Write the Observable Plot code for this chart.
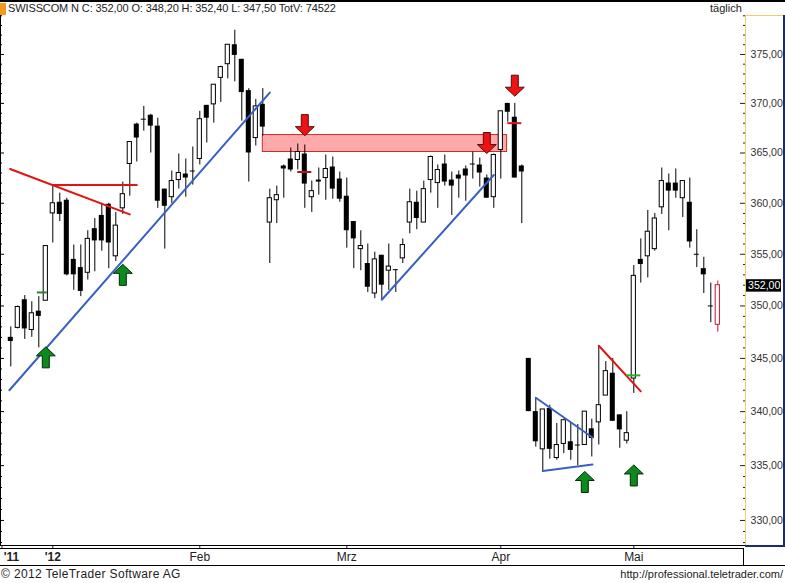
<!DOCTYPE html>
<html><head><meta charset="utf-8">
<script src="https://cdn.jsdelivr.net/npm/d3@7"></script>
<script src="https://cdn.jsdelivr.net/npm/@observablehq/plot@0.6"></script>
<style>
html,body{margin:0;padding:0;background:#fff;}
#wrap{position:relative;width:785px;height:583px;overflow:hidden;font-family:"Liberation Sans",Arial,sans-serif;color:#222;}
#wrap svg{position:absolute;left:0;top:0;}
.t{position:absolute;white-space:nowrap;font-size:12px;line-height:14px;}
.l{position:absolute;}
</style></head><body><div id="wrap"></div>
<script>
const opens = [347.0,347.9,350.6,347.7,349.5,350.5,359.0,360.1,360.3,354.5,353.7,353.2,357.5,358.8,359.9,354.8,359.5,363.9,367.9,368.4,368.8,367.7,361.4,360.6,362.3,362.9,363.2,364.4,369.8,369.9,372.6,374.0,376.0,374.5,371.3,366.5,369.9,358.1,360.3,363.7,364.4,364.3,364.9,360.6,362.3,362.5,363.6,362.4,360.7,358.2,355.5,354.1,351.2,354.9,353.4,353.5,354.6,358.1,360.1,358.1,362.3,362.0,363.9,362.3,362.8,363.4,363.9,363.8,362.5,360.6,365.3,370.0,368.6,363.7,345.0,340.0,336.5,340.3,335.7,337.0,337.2,336.9,336.9,338.4,339.0,341.5,343.6,339.7,337.3,343.1,354.5,354.8,355.5,359.6,362.0,362.0,360.5,360.1,355.0,353.6,350.0,348.2];
const closes = [346.6,349.9,347.8,349.3,349.0,355.8,360.0,358.9,353.0,353.0,351.4,356.5,356.3,356.3,356.1,357.8,360.9,366.1,366.5,368.4,367.7,360.2,359.7,362.2,363.0,362.5,363.1,368.4,368.5,371.9,373.7,376.0,374.9,371.1,365.0,369.7,367.6,360.5,360.8,363.4,363.3,365.1,361.9,361.2,362.1,363.4,361.4,360.4,357.3,356.5,355.8,351.8,354.5,352.0,353.8,353.5,355.9,360.1,358.5,361.4,364.6,363.3,362.1,361.7,362.4,362.7,363.9,363.0,360.5,364.8,369.2,369.1,362.5,363.1,340.0,337.2,340.2,336.5,336.9,339.2,336.4,336.9,340.0,337.5,340.6,343.8,339.1,338.3,338.0,352.9,354.0,357.2,358.5,362.2,361.2,361.2,362.2,356.2,355.0,353.0,350.0,352.0];
const highs = [348.0,350.0,351.0,350.4,350.9,355.8,361.8,361.0,360.5,355.9,355.9,357.3,358.5,360.0,360.0,359.1,362.1,366.1,368.0,369.7,368.9,368.5,361.4,363.2,364.9,364.4,365.6,369.2,369.8,371.9,373.8,376.0,377.5,374.5,371.5,370.4,371.5,361.4,361.7,363.8,365.5,365.9,365.8,362.2,363.5,364.8,364.6,363.1,362.5,358.2,357.3,356.0,355.2,354.9,356.0,353.5,356.5,361.4,361.2,362.2,364.7,363.8,364.8,363.1,363.2,363.7,365.1,364.5,362.8,364.9,369.2,370.0,370.0,363.8,345.0,341.3,340.2,340.6,338.9,339.3,338.9,338.8,340.0,339.3,346.2,344.7,345.0,339.7,340.0,353.9,356.5,359.3,359.0,363.5,362.9,363.4,362.2,362.5,357.4,354.7,352.2,352.4];
const lows = [344.2,347.8,346.8,347.0,346.0,350.5,356.1,358.2,352.9,351.5,350.9,352.5,353.3,355.3,353.6,354.3,358.9,360.7,364.1,367.2,365.0,359.5,355.5,360.0,361.4,360.6,361.8,363.8,366.0,368.0,370.1,372.5,372.2,368.2,362.1,365.7,366.7,354.1,358.0,360.5,363.1,363.3,359.5,359.1,360.8,360.3,360.4,360.1,355.6,353.6,353.4,351.3,350.7,350.6,351.5,351.3,354.1,357.0,357.4,358.1,361.0,359.5,361.7,358.8,360.5,360.2,362.4,361.6,360.5,359.5,362.4,368.1,362.5,358.0,340.0,336.7,334.4,335.6,335.5,336.1,335.5,335.0,336.9,335.8,336.9,341.5,339.1,336.6,337.0,341.7,352.2,352.7,355.3,358.9,357.3,360.5,358.6,355.6,353.7,351.2,348.4,347.5];

const blueLines = [
  [[-0.2,342.0],[37,371.1]],
  [[53,350.6],[69,362.8]],
  [[75,341.3],[83.1,337.6]],
  [[76,334.5],[83.1,335.1]]
];
const redLines = [
  [[-0.1,363.4],[17,358.9]],
  [[6,361.8],[18,361.8]],
  [[84,346.2],[90,341.9]]
];
const zone = {i1:36, i2:70.9, top:366.8, bottom:365.1};
const greenArrows = [[5,345.1],[16,353.0],[82,333.5],[89,334.1]];
const redArrows = [[42,367.8],[68,366.0],[72,371.8]];
const dashes = [
  {i1:3.8,i2:5.2,p:351.3,c:"#2f7d36"},
  {i1:41,i2:43,p:363.1,c:"#b5141e"},
  {i1:71,i2:73,p:368.0,c:"#e01818"},
  {i1:88,i2:90,p:343.4,c:"#22b322"}
];
const yearTicks = [0.1,6], yearLabels = ["'11","'12"];
const monthTicks = [27,48,70,89], monthLabels = ["Feb","Mrz","Apr","Mai"];
const priceTicks = [330,335,340,345,350,355,360,365,370,375];
const lastPrice = 352.0;

const rows = opens.map((o,i)=>({i,o,c:closes[i],h:highs[i],l:lows[i]}));
const last = rows.length-1;
const bodies = rows.filter(d=>d.o!==d.c);
const dojis = rows.filter(d=>d.o===d.c);
const blackBodies = bodies.filter(d=>d.o>d.c);
const whiteBodies = bodies.filter(d=>d.o<d.c && d.i!==last);
const lastBody = bodies.filter(d=>d.i===last);
const W = 7, X0 = 10.3;
const xAt = px => (px-X0)/W;
const allPrices = d3.range(328,380);
const minorPrices = allPrices.filter(p=>p%5!==0);
const arrow = dir => ({draw(ctx){
  const s=dir, w=9.5, sh=3.5, h=10.5, n=1.5;
  ctx.moveTo(0,-s*h);ctx.lineTo(w,-s*n);ctx.lineTo(sh,-s*n);ctx.lineTo(sh,s*h);
  ctx.lineTo(-sh,s*h);ctx.lineTo(-sh,-s*n);ctx.lineTo(-w,-s*n);ctx.closePath();
}});
const WICK="#000", RED="#c8142c";
const fmt = d=>d.toFixed(2).replace(".",",");

const chart = Plot.plot({
  width:785,height:583,marginLeft:0,marginRight:40,marginTop:15,marginBottom:38,
  style:{fontFamily:"'Liberation Sans',Arial,sans-serif",fontSize:"12px",background:"transparent",overflow:"visible"},
  x:{type:"linear",domain:[xAt(0),xAt(745)],range:[0,745],axis:null},
  y:{type:"log",domain:[327.74,379.03],axis:null},
  marks:[
    Plot.rect([zone],{x1:"i1",x2:"i2",y1:"bottom",y2:"top",fill:"#ffaaaa",stroke:"#cf2a2a",strokeWidth:1}),
    Plot.ruleX(rows.filter(d=>d.i!==last),{x:"i",y1:"l",y2:"h",stroke:WICK,strokeWidth:1}),
    Plot.ruleX(rows.filter(d=>d.i===last),{x:"i",y1:"l",y2:"h",stroke:RED,strokeWidth:1}),
    Plot.rect(blackBodies,{x1:d=>d.i-0.36,x2:d=>d.i+0.36,y1:"o",y2:"c",fill:"#000"}),
    Plot.rect(whiteBodies,{x1:d=>d.i-0.3,x2:d=>d.i+0.3,y1:"o",y2:"c",fill:"#fff",stroke:"#000",strokeWidth:1}),
    Plot.rect(lastBody,{x1:d=>d.i-0.3,x2:d=>d.i+0.3,y1:"o",y2:"c",fill:"#fff",stroke:RED,strokeWidth:1}),
    Plot.ruleY(dojis,{y:"c",x1:d=>d.i-0.36,x2:d=>d.i+0.36,stroke:"#000",strokeWidth:1}),
    ...blueLines.map(s=>Plot.line(s,{x:d=>d[0],y:d=>d[1],stroke:"#3b60c4",strokeWidth:2})),
    ...redLines.map(s=>Plot.line(s,{x:d=>d[0],y:d=>d[1],stroke:"#e01414",strokeWidth:2})),
    Plot.ruleY(dashes,{y:"p",x1:"i1",x2:"i2",stroke:"c",strokeWidth:2}),
    Plot.dot(greenArrows,{x:d=>d[0],y:d=>d[1],symbol:arrow(1),fill:"#0c8a1e",stroke:"#032b0a",strokeWidth:1}),
    Plot.dot(redArrows,{x:d=>d[0],y:d=>d[1],symbol:arrow(-1),fill:"#ee1212",stroke:"#5a0c0c",strokeWidth:1}),
    Plot.ruleY(minorPrices,{y:d=>d,x1:xAt(0),x2:xAt(2),stroke:"#000",strokeWidth:1}),
    Plot.ruleY(priceTicks,{y:d=>d,x1:xAt(0),x2:xAt(4),stroke:"#000",strokeWidth:1}),
    Plot.ruleY(minorPrices,{y:d=>d,x1:xAt(743),x2:xAt(746),stroke:"#222",strokeWidth:1}),
    Plot.ruleY(priceTicks,{y:d=>d,x1:xAt(740),x2:xAt(746),stroke:"#222",strokeWidth:1}),
    Plot.axisY({anchor:"right",ticks:priceTicks,tickSize:0,tickPadding:5,tickFormat:fmt,fill:"#333",fontSize:10.6}),
    Plot.rect([lastPrice],{x1:xAt(745.7),x2:xAt(781),y1:352.53,y2:351.33,fill:"#000"}),
    Plot.text([lastPrice],{x:xAt(747.5),y:d=>d,text:fmt,fill:"#fff",textAnchor:"start",fontSize:10.6}),
    Plot.axisX({anchor:"bottom",ticks:[xAt(1.5),6,27,48,70,89],tickSize:3,tickFormat:()=>""}),
    Plot.axisX({anchor:"bottom",ticks:monthTicks,tickSize:0,tickPadding:7,tickFormat:(d,i)=>monthLabels[i],fontSize:12,fill:"#222"}),
    Plot.axisX({anchor:"bottom",ticks:yearTicks,tickSize:0,tickPadding:7,tickFormat:(d,i)=>yearLabels[i],fontSize:12,fontWeight:"bold",fill:"#222"})
  ]
});
const wrap=document.getElementById("wrap");
wrap.appendChild(chart);
const line=(x,y,w,h,c)=>{const e=document.createElement("div");e.className="l";e.style.cssText=`left:${x}px;top:${y}px;width:${w}px;height:${h}px;background:${c}`;wrap.appendChild(e);};
const text=(s,style)=>{const e=document.createElement("div");e.className="t";e.textContent=s;e.style.cssText=style;wrap.appendChild(e);};
line(0,0,785,2,"#000");
line(0,3,6,12,"#f59a1c");
line(745,15,38,1,"#eecf6a");
line(745,15,1,530,"#eecf6a");
line(0,545,745,1,"#000");
line(745,545,38,2,"#1c2a6e");
line(783,15,2,532,"#1c2a6e");
line(0,548,744,1,"#000");
line(743,548,1,17,"#000");
line(0,565,785,1,"#000");
line(0,15,1,530,"#000");
text("SWISSCOM N C: 352,00 O: 348,20 H: 352,40 L: 347,50 TotV: 74522","left:8px;top:1px;font-size:11px;letter-spacing:-0.12px;");
text("täglich","left:710px;top:1px;font-size:11px;");
text("© 2012 TeleTrader Software AG","left:1px;top:567px;letter-spacing:0.35px;");
text("http://professional.teletrader.com/","right:2px;top:567px;font-size:11px;");
</script></body></html>
